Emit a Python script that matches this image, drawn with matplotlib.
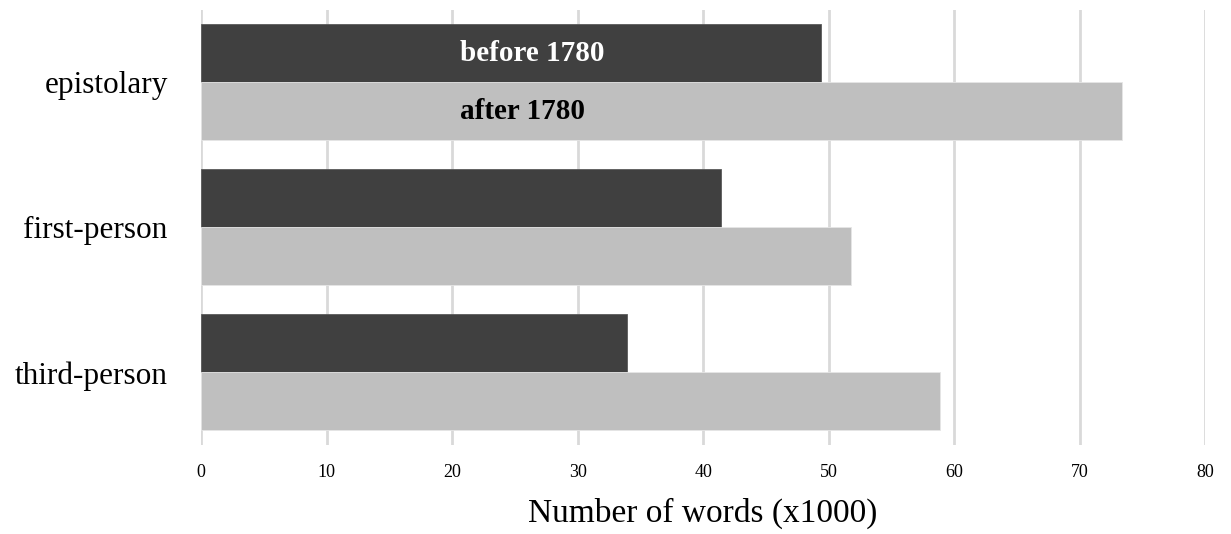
import numpy as np
import matplotlib
matplotlib.use("Agg")
import matplotlib.pyplot as plt

# ===[ Data ]===================================================================
categories = ["epistolary", "first-person", "third-person"]
before_1780 = [49.4, 41.4, 33.9]
after_1780 = [73.4, 51.8, 58.9]
series_names = ["before 1780", "after 1780"]
x_ticks = [0, 10, 20, 30, 40, 50, 60, 70, 80]

# ===[ Style ]==================================================================
plt.rcParams["font.family"] = ["Liberation Serif", "DejaVu Serif"]
dark, light, grid = "#404040", "#bfbfbf", "#d9d9d9"

# ===[ Plot ]===================================================================
fig = plt.figure(figsize=(12.31, 5.34), dpi=100)
ax = fig.add_axes([0.1633, 0.1667, 0.8157, 0.8146])

y = np.arange(len(categories))
h = 0.4
ax.barh(y - h / 2, before_1780, height=h, color=dark, edgecolor="#5a5a5a",
        linewidth=0.6, zorder=3)
ax.barh(y + h / 2, after_1780, height=h, color=light, edgecolor="#e6e6e6",
        linewidth=0.6, zorder=3)

# in-bar series labels (instead of a legend)
ax.text(26.4, y[0] - h / 2, series_names[0], color="white", fontsize=21,
        fontweight="bold", ha="center", va="center", zorder=4)
ax.text(25.6, y[0] + h / 2, series_names[1], color="black", fontsize=21,
        fontweight="bold", ha="center", va="center", zorder=4)

ax.set_xlim(0, 80)
ax.set_ylim(len(categories) - 0.5, -0.5)
ax.set_xticks(x_ticks)
ax.set_xticklabels([str(t) for t in x_ticks], fontsize=13)
ax.set_yticks(y)
ax.set_yticklabels(categories, fontsize=22.5)
ax.tick_params(axis="x", length=0, pad=14)
ax.tick_params(axis="y", length=0, pad=24)
ax.grid(axis="x", color=grid, linewidth=2, zorder=0)
for s in ax.spines.values():
    s.set_visible(False)
ax.set_xlabel("Number of words (x1000)", fontsize=24, labelpad=12)

fig.savefig("out.png", dpi=100)
